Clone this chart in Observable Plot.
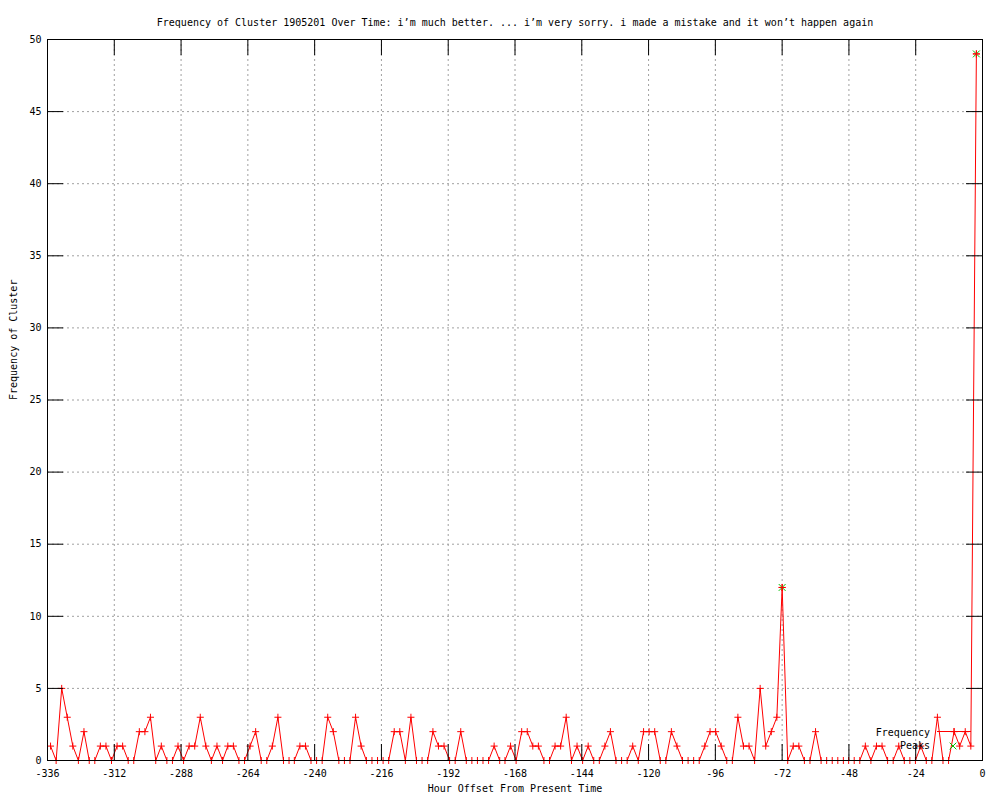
<!DOCTYPE html>
<html>
<head>
<meta charset="utf-8">
<script src="https://cdn.jsdelivr.net/npm/d3@7"></script>
<script src="https://cdn.jsdelivr.net/npm/@observablehq/plot@0.6"></script>
<style>
html, body { margin: 0; padding: 0; background: #fff; overflow: hidden; }
</style>
</head>
<body>
<div id="chart"></div>
<script>
const titleText = "Frequency of Cluster 1905201 Over Time: i\u2019m much better. ... i\u2019m very sorry. i made a mistake and it won\u2019t happen again";
const xLabel = "Hour Offset From Present Time";
const yLabel = "Frequency of Cluster";
const legendLabels = ["Frequency", "Peaks"];

const xTickValues = [-336, -312, -288, -264, -240, -216, -192, -168, -144, -120, -96, -72, -48, -24, 0];
const yTickValues = [0, 5, 10, 15, 20, 25, 30, 35, 40, 45, 50];

// hour offsets of each sample
const hours = [
  -334.9, -332.9, -330.9, -328.9, -326.9, -324.9, -322.9,
  -321, -319, -317, -315, -313, -311, -309, -307, -305, -303, -301, -299,
  -297.1, -295.1, -293.1, -291.1, -289.1, -287.1, -285.1, -283.1, -281.1, -279.1, -277.1, -275.1, -273.1,
  -271.2, -269.2, -267.2, -265.2, -263.2, -261.2, -259.2, -257.2, -255.2, -253.2, -251.2, -249.2,
  -247.3, -245.3, -243.3, -241.3, -239.3, -237.3, -235.3, -233.3, -231.3, -229.3, -227.3, -225.3, -223.3,
  -221.4, -219.4, -217.4, -215.4, -213.4, -211.4, -209.4, -207.4, -205.4, -203.4, -201.4, -199.4,
  -197.5, -195.5, -193.5, -191.5, -189.5, -187.5, -185.5, -183.5, -181.5, -179.5, -177.5, -175.5, -173.5,
  -171.6, -169.6, -167.6, -165.6, -163.6, -161.6, -159.6, -157.6, -155.6, -153.6, -151.6, -149.6,
  -147.7, -145.7, -143.7, -141.7, -139.7, -137.7, -135.7, -133.7, -131.7, -129.7, -127.7, -125.7, -123.7,
  -121.8, -119.8, -117.8, -115.8, -113.8, -111.8, -109.8, -107.8, -105.8, -103.8, -101.8, -99.8,
  -97.9, -95.9, -93.9, -91.9, -89.9, -87.9, -85.9, -83.9, -81.9, -79.9, -77.9, -75.9, -73.9,
  -72, -70, -68, -66, -64, -62, -60, -58, -56, -54, -52, -50,
  -48.1, -46.1, -44.1, -42.1, -40.1, -38.1, -36.1, -34.1, -32.1, -30.1, -28.1, -26.1, -24.1,
  -22.2, -20.2, -18.2, -16.2, -14.2, -12.2, -10.2, -8.2, -6.2, -4.2, -2.2
];

const frequency = [
  1, 0, 5, 3, 1, 0, 2, 0, 0, 1, 1, 0, 1, 1, 0, 0, 2, 2, 3, 0, 1, 0, 0, 1, 0, 1, 1, 3, 1, 0,
  1, 0, 1, 1, 0, 0, 1, 2, 0, 0, 1, 3, 0, 0, 0, 1, 1, 0, 0, 0, 3, 2, 0, 0, 0, 3, 1, 0,
  0, 0, 0, 0, 2, 2, 0, 3, 0, 0, 0, 2, 1, 1, 0, 0, 2, 0, 0, 0, 0, 0, 1, 0, 0, 1, 0, 2, 2,
  1, 1, 0, 0, 1, 1, 3, 0, 1, 0, 1, 0, 0, 1, 2, 0, 0, 0, 1, 0, 2, 2, 2, 0, 0, 2, 1, 0, 0,
  0, 0, 1, 2, 2, 1, 0, 0, 3, 1, 1, 0, 5, 1, 2, 3, 12, 0, 1, 1, 0, 0, 2, 0, 0,
  0, 0, 0, 0, 0, 0, 1, 0, 1, 1, 0, 0, 1, 0, 0, 0, 1, 0, 0, 3, 0, 0, 2, 1, 2, 1, 49
];

const peakHours = [-72, -2.2];
const peakValues = [12, 49];

const freqData = hours.map((h, i) => ({h, v: frequency[i]}));
const peakData = peakHours.map((h, i) => ({h, v: peakValues[i]}));

const FONT = "DejaVu Sans Mono";
const W = 1000, H = 800, ML = 47, MR = 18, MT = 39, MB = 40;
const innerW = W - ML - MR, innerH = H - MT - MB;
const TICK = 16;
const GREEN = "#00c000";

function legend(index, scales, values, dims) {
  const right = dims.width - dims.marginRight;
  const bottom = dims.height - dims.marginBottom;
  const g = d3.create("svg:g").attr("font-family", FONT).attr("font-size", 10).attr("fill", "black");
  g.append("text").attr("x", right - 52).attr("y", bottom - 27).attr("dy", "0.32em")
    .attr("text-anchor", "end").text(legendLabels[0]);
  g.append("text").attr("x", right - 52).attr("y", bottom - 14).attr("dy", "0.32em")
    .attr("text-anchor", "end").text(legendLabels[1]);
  g.append("line").attr("x1", right - 45).attr("x2", right - 11)
    .attr("y1", bottom - 28.5).attr("y2", bottom - 28.5).attr("stroke", "red");
  g.append("path").attr("transform", `translate(${right - 28},${bottom - 28.5})`)
    .attr("d", d3.symbol(d3.symbolPlus, 18)()).attr("stroke", "red").attr("fill", "none");
  g.append("path").attr("transform", `translate(${right - 29},${bottom - 14})`)
    .attr("d", d3.symbol(d3.symbolTimes, 31)()).attr("stroke", GREEN).attr("fill", "none");
  return g.node();
}

const textStyle = {fontFamily: FONT, fontSize: 10, fill: "black"};

const chart = Plot.plot({
  width: W, height: H,
  marginLeft: ML, marginRight: MR, marginTop: MT, marginBottom: MB,
  style: {fontFamily: FONT, fontSize: "10px", color: "black", background: "white"},
  x: {domain: [-336, 0]},
  y: {domain: [0, 50]},
  marks: [
    Plot.gridX(xTickValues, {stroke: "#a0a0a0", strokeOpacity: 1, strokeDasharray: "2,3"}),
    Plot.gridY(yTickValues, {stroke: "#a0a0a0", strokeOpacity: 1, strokeDasharray: "2,3"}),
    Plot.line(freqData, {x: "h", y: "v", stroke: "red", strokeWidth: 1}),
    Plot.dot(freqData, {x: "h", y: "v", symbol: "plus", r: 2.4, stroke: "red", strokeWidth: 1}),
    Plot.dot(peakData, {x: "h", y: "v", symbol: "times", r: 3.2, stroke: GREEN, strokeWidth: 1}),
    Plot.dot(peakData, {x: "h", y: "v", symbol: "plus", r: 2.4, stroke: "red", strokeWidth: 1}),
    Plot.frame({stroke: "black", strokeOpacity: 1}),
    Plot.tickX(xTickValues, {x: d => d, insetTop: innerH - TICK, stroke: "black"}),
    Plot.tickX(xTickValues, {x: d => d, insetBottom: innerH - TICK, stroke: "black"}),
    Plot.tickY(yTickValues, {y: d => d, insetRight: innerW - TICK, stroke: "black"}),
    Plot.tickY(yTickValues, {y: d => d, insetLeft: innerW - TICK, stroke: "black"}),
    Plot.axisX(xTickValues, {tickSize: 0, tickPadding: 9, tickFormat: d => String(d), label: null, fontFamily: FONT, fontSize: 10, fill: "black"}),
    Plot.axisY(yTickValues, {tickSize: 0, tickPadding: 6, tickFormat: d => String(d), label: null, fontFamily: FONT, fontSize: 10, fill: "black"}),
    Plot.text([titleText], {frameAnchor: "top", dy: -21, ...textStyle}),
    Plot.text([xLabel], {frameAnchor: "bottom", dy: 31, ...textStyle}),
    Plot.text([yLabel], {frameAnchor: "left", dx: -34, rotate: -90, ...textStyle}),
    legend
  ]
});

document.getElementById("chart").appendChild(chart);
</script>
</body>
</html>
